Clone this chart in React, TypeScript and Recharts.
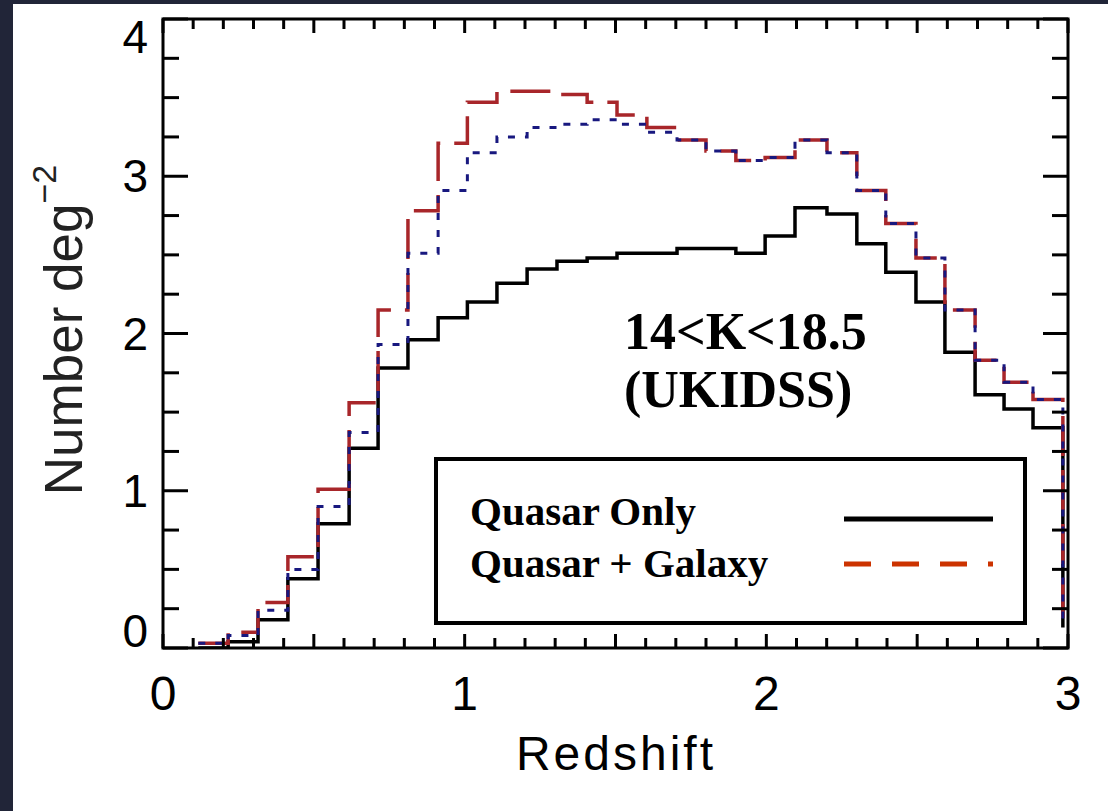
import { ComposedChart, Line, XAxis, YAxis, Legend, ReferenceArea } from "recharts";

// bin edges (redshift) as they sit in the figure; the last one closes the final bin
const binEdges = [
  0.117, 0.216, 0.315, 0.414, 0.514, 0.617, 0.713, 0.812, 0.912, 1.009,
  1.107, 1.207, 1.306, 1.406, 1.505, 1.604, 1.704, 1.8, 1.899, 1.996,
  2.095, 2.201, 2.3, 2.396, 2.496, 2.592, 2.692, 2.788, 2.884, 2.983,
];

// number per square degree in each bin (last entry = level after the final edge)
const quasarOnly = [
  0.0, 0.04, 0.18, 0.44, 0.79, 1.27, 1.78, 1.96, 2.1, 2.2,
  2.32, 2.41, 2.46, 2.48, 2.51, 2.51, 2.54, 2.54, 2.51, 2.62,
  2.8, 2.76, 2.57, 2.39, 2.2, 1.88, 1.61, 1.52, 1.4, 0.13,
];
const quasarGalaxy = [
  0.03, 0.1, 0.29, 0.58, 1.01, 1.56, 2.15, 2.78, 3.21, 3.47,
  3.54, 3.54, 3.52, 3.47, 3.39, 3.31, 3.23, 3.16, 3.1, 3.12,
  3.23, 3.15, 2.91, 2.7, 2.48, 2.15, 1.83, 1.69, 1.58, 0.13,
];
const quasarGalaxyDotted = [
  0.03, 0.08, 0.24, 0.5, 0.9, 1.37, 1.93, 2.51, 2.91, 3.15,
  3.25, 3.31, 3.33, 3.36, 3.33, 3.28, 3.23, 3.16, 3.1, 3.12,
  3.23, 3.15, 2.91, 2.7, 2.48, 2.15, 1.83, 1.69, 1.58, 0.13,
];

const xTicks = [
  0, 0.1, 0.2, 0.3, 0.4, 0.5, 0.6, 0.7, 0.8, 0.9, 1, 1.1, 1.2, 1.3, 1.4, 1.5,
  1.6, 1.7, 1.8, 1.9, 2, 2.1, 2.2, 2.3, 2.4, 2.5, 2.6, 2.7, 2.8, 2.9, 3,
];
const yTicks = [0, 0.25, 0.5, 0.75, 1, 1.25, 1.5, 1.75, 2, 2.25, 2.5, 2.75, 3, 3.25, 3.5, 3.75, 4];
const xLabels = [0, 1, 2, 3];
const yLabels = [0, 1, 2, 3, 4];
const legendOrder = ["Quasar Only", "Quasar + Galaxy"];
const annotation = ["14<K<18.5", "(UKIDSS)"];

const data = binEdges.map((z, i) => ({
  z,
  quasar: quasarOnly[i],
  galaxy: quasarGalaxy[i],
  dotted: quasarGalaxyDotted[i],
}));

// plot frame in page pixels
const W = 1108;
const H = 811;
const PLOT = { left: 163, right: 1068, top: 19, bottom: 648 };
const LABEL_FONT = "'Liberation Sans', Arial, sans-serif";
const SERIF = "'Liberation Serif', 'Times New Roman', serif";

const legendStyle: Record<string, { color: string; dash?: string }> = {
  "Quasar Only": { color: "#000" },
  "Quasar + Galaxy": { color: "#cc3300", dash: "27 21" },
};

function XTick(props: any) {
  const { x, payload } = props;
  const v = payload.value;
  const k = Math.round(v * 10);
  const len = k % 5 === 0 ? 14 : 10;
  return (
    <g>
      <line x1={x} x2={x} y1={PLOT.bottom} y2={PLOT.bottom - len} stroke="#000" strokeWidth={3} />
      <line x1={x} x2={x} y1={PLOT.top} y2={PLOT.top + len} stroke="#000" strokeWidth={3} />
      {xLabels.includes(v) && (
        <text x={x} y={710} textAnchor="middle" fontFamily={LABEL_FONT} fontSize={48} fill="#000">
          {v}
        </text>
      )}
    </g>
  );
}

function YTick(props: any) {
  const { y, payload } = props;
  const v = payload.value;
  const major = yLabels.includes(v);
  const len = major ? 25 : 16;
  // end labels sit inside the frame in the original
  const base = v === 4 ? y + 34 : v === 0 ? y - 1 : y + 16;
  return (
    <g>
      <line x1={PLOT.left} x2={PLOT.left + len} y1={y} y2={y} stroke="#000" strokeWidth={3} />
      <line x1={PLOT.right} x2={PLOT.right - len} y1={y} y2={y} stroke="#000" strokeWidth={3} />
      {major && (
        <text x={148} y={base} textAnchor="end" fontFamily={LABEL_FONT} fontSize={46} fill="#000">
          {v}
        </text>
      )}
    </g>
  );
}

const yTitle = () => (
  <text
    transform="translate(82, 330) rotate(-90)"
    textAnchor="middle"
    fontFamily={LABEL_FONT}
    fontSize={53}
    fill="#222"
  >
    Number deg
    <tspan dy={-26} fontSize={34}>
      −2
    </tspan>
  </text>
);

const xTitle = () => (
  <text x={616} y={770} textAnchor="middle" fontFamily={LABEL_FONT} fontSize={48} letterSpacing={3} fill="#000">
    Redshift
  </text>
);

function LegendBox(props: any) {
  const items = (props.payload || [])
    .filter((p: any) => legendOrder.includes(p.value))
    .sort((a: any, b: any) => legendOrder.indexOf(a.value) - legendOrder.indexOf(b.value));
  return (
    <svg width={593} height={168} style={{ display: "block" }}>
      <rect x={2} y={2} width={589} height={164} fill="#fff" stroke="#000" strokeWidth={4} />
      {items.map((item: any, i: number) => {
        const st = legendStyle[item.value] || { color: item.color };
        return (
          <g key={item.value}>
            <text x={36} y={68 + i * 52} fontFamily={SERIF} fontWeight="bold" fontSize={41} fill="#000">
              {item.value}
            </text>
            <line
              x1={410}
              x2={559}
              y1={62 + i * 45}
              y2={62 + i * 45}
              stroke={st.color}
              strokeWidth={5}
              strokeDasharray={st.dash}
            />
          </g>
        );
      })}
    </svg>
  );
}

export default function App() {
  return (
    <div style={{ position: "absolute", left: 0, top: 0, width: W, height: H, background: "#212538" }}>
      <div style={{ position: "absolute", left: 13, top: 4, right: 0, bottom: 0, background: "#fff" }} />
      <div style={{ position: "absolute", left: 0, top: 0 }}>
        <ComposedChart
          width={W}
          height={H}
          data={data}
          margin={{ top: PLOT.top, right: W - PLOT.right, bottom: H - PLOT.bottom - 60, left: PLOT.left - 60 }}
        >
          <XAxis
            dataKey="z"
            type="number"
            domain={[0, 3]}
            ticks={xTicks}
            interval={0}
            height={60}
            tickSize={0}
            tickMargin={0}
            tickLine={false}
            axisLine={false}
            tick={<XTick />}
            label={xTitle}
            allowDataOverflow
          />
          <YAxis
            type="number"
            domain={[0, 4]}
            ticks={yTicks}
            interval={0}
            width={60}
            tickSize={0}
            tickMargin={0}
            tickLine={false}
            axisLine={false}
            tick={<YTick />}
            label={yTitle}
            allowDataOverflow
          />
          <ReferenceArea x1={0} x2={3} y1={0} y2={4} fill="none" stroke="#000" strokeWidth={3} />
          <Line
            dataKey="quasar"
            name="Quasar Only"
            type="stepAfter"
            stroke="#000"
            strokeWidth={3.5}
            dot={false}
            activeDot={false}
            isAnimationActive={false}
          />
          <Line
            dataKey="galaxy"
            name="Quasar + Galaxy"
            type="stepAfter"
            stroke="#a8262a"
            strokeWidth={3.5}
            strokeDasharray="40 14"
            dot={false}
            activeDot={false}
            isAnimationActive={false}
          />
          <Line
            dataKey="dotted"
            name="dotted"
            type="stepAfter"
            stroke="#18187f"
            strokeWidth={3}
            strokeDasharray="7 10"
            dot={false}
            activeDot={false}
            legendType="none"
            isAnimationActive={false}
          />
          <Legend
            layout="vertical"
            align="center"
            verticalAlign="middle"
            content={<LegendBox />}
            wrapperStyle={{ left: 434, top: 457, width: 593, height: 168 }}
          />
        </ComposedChart>
      </div>
      {annotation.map((line, i) => (
        <div
          key={line}
          style={{
            position: "absolute",
            left: 624,
            top: 303 + i * 58,
            height: 58,
            fontFamily: SERIF,
            fontWeight: "bold",
            fontSize: 52,
            lineHeight: "58px",
            color: "#000",
            whiteSpace: "nowrap",
          }}
        >
          {line}
        </div>
      ))}
    </div>
  );
}
